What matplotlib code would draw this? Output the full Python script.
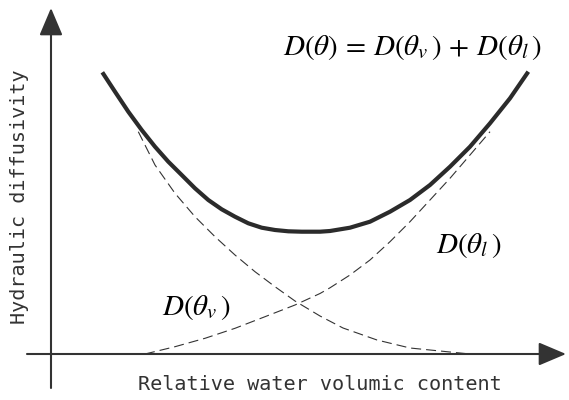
import numpy as np
import matplotlib
matplotlib.use("Agg")
import matplotlib.pyplot as plt

plt.rcParams["mathtext.fontset"] = "stix"

# Total hydraulic diffusivity D(theta) (arbitrary units)
theta_total = [0.513, 0.64, 0.773, 0.907, 1.04, 1.173, 1.307, 1.44, 1.573,
               1.707, 1.84, 1.973, 2.107, 2.24, 2.373, 2.507, 2.69, 2.79,
               2.99, 3.19, 3.39, 3.59, 3.79, 3.99, 4.19, 4.39, 4.59, 4.773]
d_total = [2.817, 2.623, 2.423, 2.24, 2.073, 1.923, 1.79, 1.657, 1.54,
           1.447, 1.373, 1.307, 1.263, 1.24, 1.227, 1.223, 1.223, 1.23,
           1.263, 1.323, 1.423, 1.54, 1.69, 1.873, 2.073, 2.307, 2.557, 2.823]

# Vapour part D(theta_v)
theta_v = [0.873, 1.04, 1.24, 1.44, 1.64, 1.84, 2.04, 2.24, 2.44, 2.69,
           2.92, 3.26, 3.59, 3.92, 4.19]
d_v = [2.223, 1.89, 1.607, 1.373, 1.173, 0.99, 0.823, 0.673, 0.53, 0.38,
       0.26, 0.14, 0.06, 0.027, 0.0]

# Liquid part D(theta_l)
theta_l = [0.94, 1.24, 1.54, 1.84, 2.14, 2.44, 2.69, 2.79, 2.99, 3.19,
           3.39, 3.59, 3.79, 3.99, 4.19, 4.39]
d_l = [0.0, 0.073, 0.157, 0.257, 0.373, 0.49, 0.605, 0.662, 0.79, 0.94,
       1.123, 1.323, 1.54, 1.757, 1.99, 2.223]

axis_color = "#333333"
curve_color = "#2b2b2b"

fig = plt.figure(figsize=(5.69, 4.0), dpi=100)
ax = fig.add_axes([0, 0, 1, 1])
ax.set_xlim(-0.51, 5.18)
ax.set_ylim(-0.46, 3.54)
ax.axis("off")

# axes drawn as arrows
arrow = dict(arrowstyle="-|>,head_length=0.85,head_width=0.36",
             color=axis_color, lw=1.5, mutation_scale=20,
             shrinkA=0, shrinkB=0)
ax.annotate("", xy=(0, 3.46), xytext=(0, -0.34), arrowprops=arrow)
ax.annotate("", xy=(5.15, 0), xytext=(-0.24, 0), arrowprops=arrow)

# curves
ax.plot(theta_total, d_total, color=curve_color, lw=3.0,
        solid_capstyle="butt", solid_joinstyle="round")
ax.plot(theta_v, d_v, color=axis_color, lw=0.8, dashes=(9, 4.5))
ax.plot(theta_l, d_l, color=axis_color, lw=0.8, dashes=(9, 4.5))

# labels
ax.text(2.32, 2.99,
        r"$D(\theta)\,=\,D(\theta_v\,)\,+\,D(\theta_l\,)$",
        fontsize=21, ha="left", va="baseline", color="black")
ax.text(1.11, 0.39, r"$D(\theta_v\,)$", fontsize=21, ha="left",
        va="baseline", color="black")
ax.text(3.85, 1.01, r"$D(\theta_l\,)$", fontsize=21, ha="left",
        va="baseline", color="black")

ax.text(2.69, -0.31, "Relative water volumic content", family="DejaVu Sans Mono",
        fontsize=14.5, ha="center", va="center", color=axis_color)
ax.text(-0.31, 1.57, "Hydraulic diffusivity", family="DejaVu Sans Mono",
        fontsize=14.5, ha="center", va="center", rotation=90, color=axis_color)

fig.savefig("out.png", dpi=100)
